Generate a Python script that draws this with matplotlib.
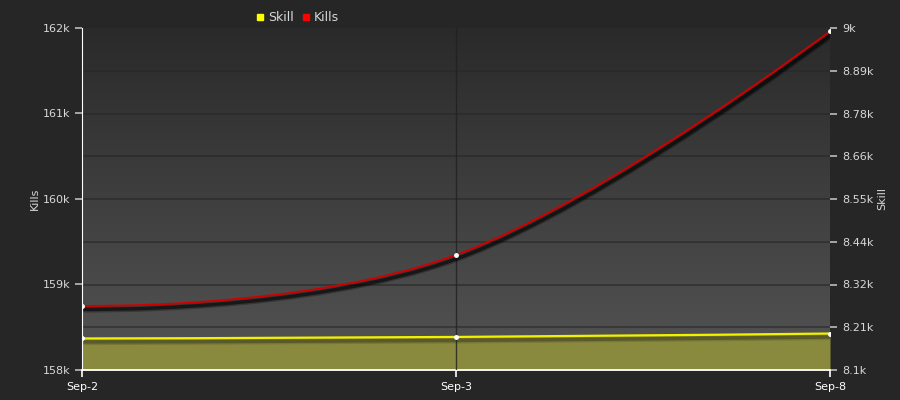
import numpy as np
import matplotlib
matplotlib.use("Agg")
import matplotlib.pyplot as plt
from matplotlib.path import Path
from matplotlib.patches import PathPatch
from matplotlib.lines import Line2D
import matplotlib.patheffects as pe
from matplotlib.ticker import FuncFormatter

dates = ["Sep-2", "Sep-3", "Sep-8"]
kills = [158750, 159345, 161960]
skill = [8183, 8187, 8196]

kills_ticks = [158000, 159000, 160000, 161000, 162000]
skill_ticks = [8100 + i * 112.5 for i in range(9)]
skill_labels = ["8.1k", "8.21k", "8.32k", "8.44k", "8.55k", "8.66k", "8.78k", "8.89k", "9k"]

BG = "#262626"
TXT = "#d8d8d8"


def spline_path(xs, ys, smoothing=1.5):
    # highcharts-like spline control points
    verts = [(xs[0], ys[0])]
    codes = [Path.MOVETO]
    n = len(xs)
    conts = []
    for i in range(n):
        if i == 0 or i == n - 1:
            conts.append(((xs[i], ys[i]), (xs[i], ys[i])))
            continue
        d = smoothing + 1
        lx = (smoothing * xs[i] + xs[i - 1]) / d
        ly = (smoothing * ys[i] + ys[i - 1]) / d
        rx = (smoothing * xs[i] + xs[i + 1]) / d
        ry = (smoothing * ys[i] + ys[i + 1]) / d
        corr = ((ry - ly) * (rx - xs[i])) / (rx - lx) + ys[i] - ry
        ly += corr
        ry += corr
        conts.append(((lx, ly), (rx, ry)))
    for i in range(1, n):
        verts += [conts[i - 1][1], conts[i][0], (xs[i], ys[i])]
        codes += [Path.CURVE4] * 3
    return Path(verts, codes)


def shadow(alpha):
    # soft drop shadow: two passes
    return [pe.SimpleLineShadow(offset=(1, -2.5), shadow_color="black", alpha=alpha * 0.5, linewidth=4.5),
            pe.SimpleLineShadow(offset=(1, -2.5), shadow_color="black", alpha=alpha, linewidth=2.5),
            pe.Normal()]


fig = plt.figure(figsize=(9, 4), dpi=100, facecolor=BG)
ax = fig.add_axes([82 / 900, 30 / 400, 748 / 900, 342 / 400])
ax2 = ax.twinx()

x = np.arange(len(dates))

# gradient plot background (bottom axes)
grad = np.linspace(0, 1, 256).reshape(-1, 1)
ax.imshow(grad, extent=[0, 1, 0, 1], transform=ax.transAxes, aspect="auto",
          cmap=matplotlib.colors.LinearSegmentedColormap.from_list("g", ["#2a2a2a", "#545454"]),
          zorder=0)

ax.set_xlim(0, len(dates) - 1)
ax.set_ylim(kills_ticks[0], kills_ticks[-1])
ax2.set_ylim(skill_ticks[0], skill_ticks[-1])
ax2.patch.set_visible(False)

# grid lines from the right axis
for t in skill_ticks[1:-1]:
    ax2.axhline(t, color="#262626", lw=1.2, alpha=0.65, zorder=1)
ax2.axvline(1, color="#202020", lw=1, alpha=0.8, zorder=4)

# skill area + line
ax2.fill_between(x, skill, skill_ticks[0], color="#8a8a3f", lw=0, zorder=2)
ax2.add_patch(PathPatch(spline_path(x, skill), fill=False, edgecolor="#f2f200", lw=1.6, zorder=3,
                        path_effects=shadow(0.25)))
ax2.plot(x, skill, "o", color="white", ms=2.5, zorder=5)

# kills line on left scale, drawn in the top axes
ax2.add_patch(PathPatch(spline_path(x, kills), fill=False, edgecolor="#d00000", lw=1.4, zorder=6,
                        transform=ax.transData, path_effects=shadow(0.55)))
ax2.plot(x, kills, "o", color="white", ms=2.5, zorder=7, transform=ax.transData)
ax2.set_xlim(0, len(dates) - 1)
ax2.set_ylim(skill_ticks[0], skill_ticks[-1])

# ticks and labels
ax.set_xticks(x)
ax.set_xticklabels(dates)
ax.set_yticks(kills_ticks)
ax.yaxis.set_major_formatter(FuncFormatter(lambda v, p: f"{v / 1000:g}k"))
ax2.set_yticks(skill_ticks)
ax2.set_yticklabels(skill_labels)

for a in (ax, ax2):
    a.tick_params(colors=TXT, labelsize=8, length=5, width=1.2, direction="out")
    for s in a.spines.values():
        s.set_visible(False)
ax.tick_params(axis="y", colors="#bbbbbb", labelcolor=TXT)
ax2.tick_params(axis="y", colors="#bbbbbb", labelcolor=TXT, pad=4)
ax.tick_params(axis="x", colors="white", labelcolor="white")
ax2.spines["left"].set_visible(True)
ax2.spines["left"].set_color("white")
ax2.spines["bottom"].set_visible(True)
ax2.spines["bottom"].set_color("white")
ax2.spines["bottom"].set_linewidth(1.3)

ax.set_ylabel("Kills", color=TXT, fontsize=8, labelpad=2)
ax2.set_ylabel("Skill", color=TXT, fontsize=8, labelpad=2)

# legend
handles = [Line2D([], [], marker="s", ls="", color="#ffff00", ms=5),
           Line2D([], [], marker="s", ls="", color="#ff0000", ms=5)]
fig.legend(handles, ["Skill", "Kills"], loc="upper center", bbox_to_anchor=(0.33, 1.0),
           ncol=2, frameon=False, fontsize=9, labelcolor=TXT, handletextpad=0.2,
           columnspacing=0.6, handlelength=0.8)

fig.savefig("out.png", dpi=100, facecolor=BG)
